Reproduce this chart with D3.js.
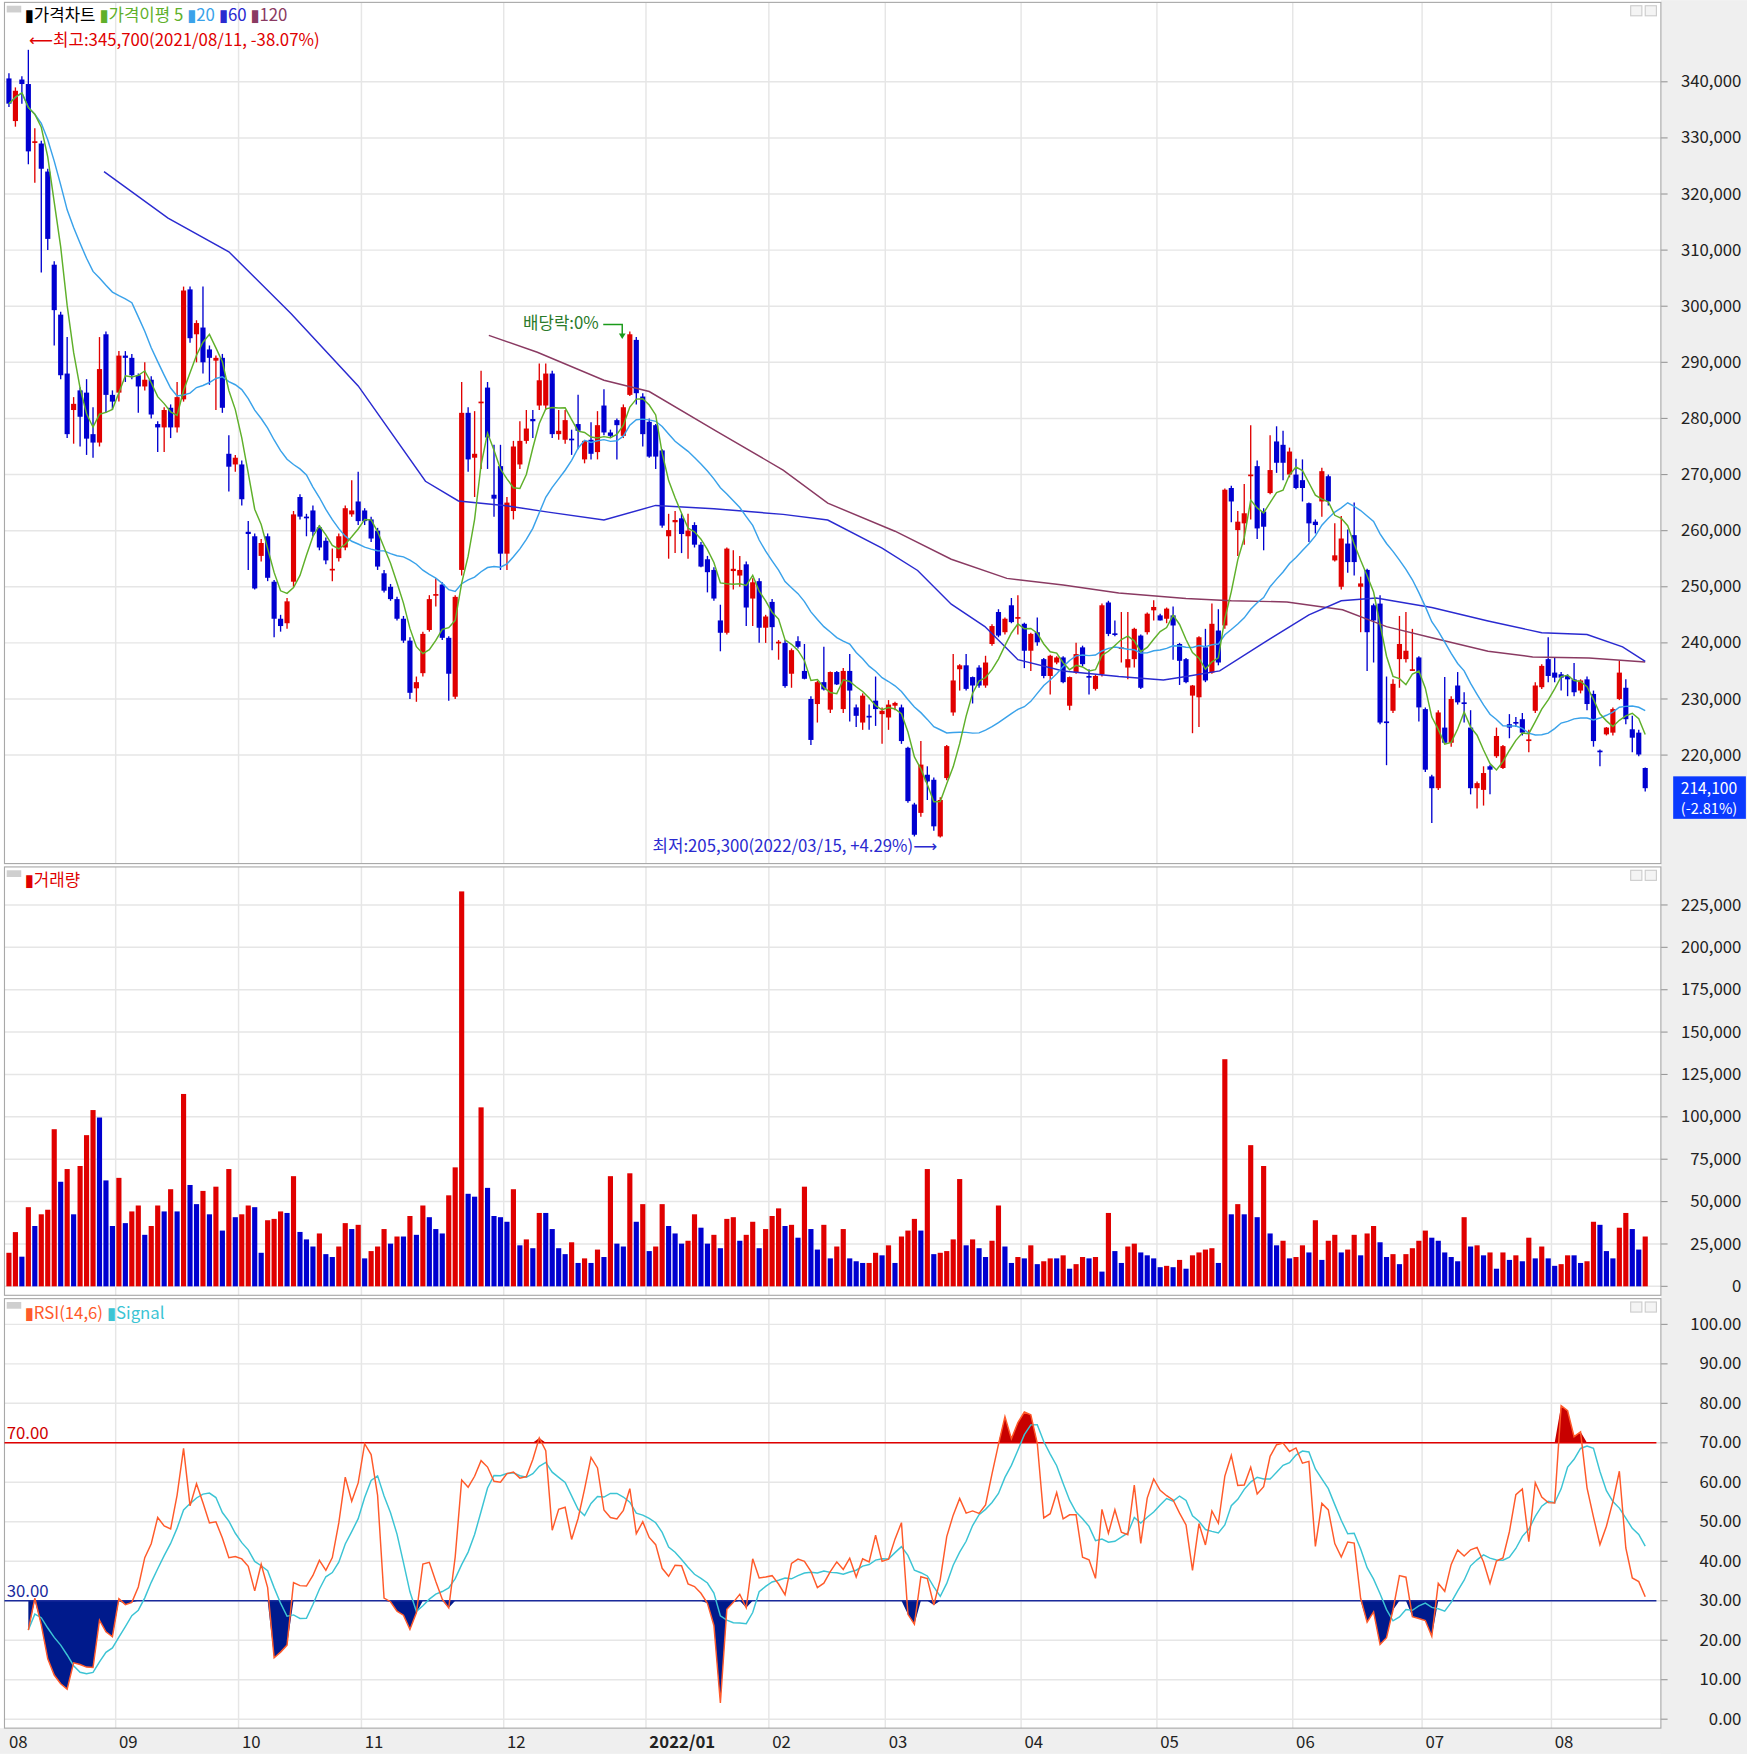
<!DOCTYPE html>
<html><head><meta charset="utf-8">
<script src="https://cdn.jsdelivr.net/npm/d3@7"></script>
<style>
body{margin:0;background:#fff;}
text{font-family:"Noto Sans CJK KR","DejaVu Sans",sans-serif;}
</style></head>
<body><svg id="c" width="1747" height="1754" viewBox="0 0 1562 1568"></svg>
<script>
// candles [open, high, low, close] in thousands of won, per month
var aug21 = [[340.6,341.5,335.5,336.1],[333,339,332,338.4],[340.4,341,336.1,339.6],[339.6,345.7,325.3,327.6],[329.1,331.7,322,329.4],[329,329.5,306,324.5],[324,324.5,310,312],[307.4,308,293,299.3],[298.5,299,287,287.7],[288,294.5,276.5,277.2],[281.5,283.8,275.5,282.6],[285,285.5,275,280.3],[284.6,287,273.5,276.4],[277.2,282,273,275.7],[275.7,294.5,275,288.8],[295,295.5,281,284.2],[284.2,285,281.5,283]];
var sep21 = [[284.6,292,283,291.2],[291.2,292,286.5,290.8],[290.8,291.5,287,287.7],[287.7,288,281,285.7],[285.7,290,285,286.9],[286.9,287.5,280,280.7],[279,279.5,274,278.4],[278.4,282,274,281.5],[281.9,282.5,276.5,278.4],[278.4,286.5,277.5,283.8],[283.4,303.5,283,302.8],[303,303.5,293.5,294.3],[295,297.5,290,297],[296.2,303.5,288,290],[292.3,293,286,290.8],[290.3,291.2,281.5,290.8],[290.8,291.5,281,281.9],[273.7,277,267,271.4],[271.8,273.5,270.5,273]];
var oct21 = [[271.8,272.5,264.5,265.6],[259.8,261.7,253,259.4],[259,259.5,249.5,249.7],[255.5,258.5,254.5,257.8],[259,259.5,251,251.6],[250.9,251.2,241,244.3],[244.3,245,242,243],[243.5,248,242.5,247.4],[250.9,263.5,250,262.9],[266,266.5,262,262.5],[262.5,263,259,262.2],[263.6,264.5,259,259.8],[260.6,261,256.5,257],[258.2,258.8,254,254.7],[253,256.8,251,253.2],[255.1,259.5,254.5,259],[257,264.5,256.5,264],[262.9,269,262.5,263.6],[265.2,270.5,261,261.7]];
var nov21 = [[263.6,264,261,261.7],[262,262.5,258,258.6],[260,260.5,253,253.6],[252.4,253,249,249.3],[250,250.5,247.5,247.8],[247.8,248.2,244,244.3],[244.3,244.8,240,240.4],[240.4,241,230,231.1],[231.9,234,229.5,233],[234.6,242,234,241.6],[242.3,248.5,242,247.8],[248.7,251.5,246.5,248.7],[250.4,250.8,240.5,240.9],[240.9,241.2,229.7,234.5],[230.4,248.5,230,248.2],[253,286.5,252,281],[281,282,270.5,272.7],[273,281.3,266,273.7],[283,288.5,271,283],[285.5,286.5,271,276.6],[266.4,275.3,262.5,265.7],[271.5,275.3,253,255.9]];
var dec21 = [[255.9,266,253,265],[263.5,276,262,275],[271.8,279.5,271,276],[276,281.5,275.5,278.2],[279.9,281.5,276.5,279.5],[282.3,289.8,281.5,286.8],[282.3,289.8,281.5,288],[288,288.5,276.5,277.2],[277.2,281.5,276.2,277.8],[276.2,281.5,275.5,279.7],[276.4,278,273.5,276.2],[279,284.2,274.5,277.8],[272.7,276,272,276],[276.2,279.3,272.7,273.7],[274,281.3,272.7,278.8],[282.3,285.2,277,277.5],[277.5,278,276.5,276.9],[279.7,280,272.7,278.8],[276.9,282.5,276.5,282],[284.2,295.5,284,295],[294,294.5,282.5,284.5],[283.9,284.5,275,277.2]];
var jan22 = [[279.4,280,273,273.2],[278.8,279,271,273.2],[274.3,274.5,260.5,260.9],[259,263,255,260.1],[261.5,263.5,256,261.9],[262.2,263,256,259.4],[259,263,255,260],[261,261.5,257,257.5],[257.5,258,253.5,253.6],[254.9,255.5,249,252.6],[253,253.5,247.5,247.9],[244,246.8,238.5,241.8],[241.8,257,241.5,256.8],[252.8,256.5,249.5,253.2],[252,255.5,250,253],[254,254.5,243,246.3],[247.9,251.5,243,250.8],[251,251.5,240,242.7],[242.7,245,240,244.7]];
var feb22 = [[247.3,247.8,238.7,242.8],[240,240.5,237,240.2],[240,240.5,232,232.3],[234.5,239,232,238.7],[240.3,241.2,239,239.3],[235,239.8,233.5,233.6],[230,230.5,221.8,222.7],[229.1,233.2,225.8,233],[233,239.3,231.5,231.7],[228.1,234.9,227.5,234.8],[234.8,235,232.5,232.6],[228.2,235.5,227.5,235],[235,238,226,231.5],[228.5,229,225,227],[225.8,231,224.5,230.6],[227,229,224.5,226.7],[229.7,234,225.2,228.2],[227.3,228.5,222,227.9]];
var mar22 = [[226.7,229.8,224.5,229],[228.8,229.5,228,229.3],[228.5,229,222,222.5],[221.3,221.5,211.5,211.8],[211.2,211.5,205.5,205.8],[209.7,222.5,209,218.3],[216.5,218,212,215.3],[215.6,216,206.5,207.3],[205.5,212.5,205.3,212],[215.9,221.8,215.5,221.6],[227.6,238,227,233.3],[235.3,236.2,231.5,236],[236,238,231.5,231.8],[233.9,234,229.2,232.4],[235.6,236,232,232.4],[232.4,237.7,232,236.5],[239.8,243.3,239.5,243],[245.5,246,241,241.3],[241.9,244.5,241.5,244.3],[246.7,248,243.5,243.7],[244.4,248.5,241.5,244.6]];
var apr22 = [[243.4,243.6,235.5,238.6],[238.6,241.8,235,241.6],[241.9,244.5,239.5,240.1],[237.1,237.3,233.7,234.1],[234.1,237.9,230.8,237.7],[236.5,237.6,236.2,237.4],[237.4,237.6,232.8,233],[228.8,234,228,233.9],[234.7,240,234.5,238],[239.2,239.5,235.8,236.2],[234.1,235.3,230.8,233.9],[231.8,234.3,231.5,234.1],[234.4,247,234,246.7],[247.2,247.5,241.2,241.6],[241.7,244,241.2,241.4],[239,245.5,236.5,239.2],[235.6,245.5,233.5,237.1],[237.1,242.7,235.6,242.5],[241.3,241.5,231.8,232],[241.9,245.4,241.5,245.2],[245.8,247.6,244,246.4]];
var may22 = [[244.9,245.2,244,244],[244.3,246.3,243.5,246.1],[244.9,246.5,237,243.1],[239.8,240,232.5,236.8],[237.1,237.3,232.8,233],[230.6,232.5,223.9,232.4],[230.3,241.2,225,241],[239.2,242.5,233,233.3],[234.7,247,234.5,243.4],[242.2,246,236,236.5],[243.1,267.5,242.5,267.3],[267.6,268,261.5,265.2],[260.1,263.5,255.5,261.6],[261.3,268.3,257.5,263.1],[269.7,278.8,262,270],[271.5,272.5,258.5,260.4],[263.4,264,256.5,260.7],[266.7,277,266.5,270.8],[275.9,278.6,270.3,272.1],[275.3,277.8,269,272.1],[270,274.8,269.5,274.1]];
var jun22 = [[270,272.8,267.4,267.6],[269,272.7,265.2,267.6],[264.9,265,258,261.3],[261.6,262,259.5,261],[265.2,271.2,262.5,270.6],[269.7,270,264.5,265.2],[254.7,261.3,254.5,255.6],[250,262.6,249.5,258.6],[257.7,260.2,252.5,254.4],[259.2,265,252,254.4],[250,251.8,241.9,250.6],[253,253.2,235,241.9],[246.7,247,236.5,244],[247,248.5,225.5,225.8],[226,234,218.2,225.8],[227.9,233.5,227.5,232.7],[237.1,244.8,232,239.8],[237.1,245.5,236.5,238.6],[235,242.5,235,235.3],[237.4,237.6,226,228.5]];
var jul22 = [[228.2,228.5,217,217.4],[216.2,216.5,207.9,214.1],[214.1,228,213.8,227.6],[224.9,233.9,222,222.2],[222.2,230.5,221.5,230],[232.4,234.8,229,229.4],[229.4,231.2,225.8,229.2],[224.9,228,213,214.1],[214.1,215.3,210.5,215],[213.8,218,211,216.8],[218,218.3,213,217.4],[219.8,224.9,219.5,223.4],[217.7,221.8,217.5,221.6],[225.5,227.3,223,224.9],[225.9,226.8,225,225.8],[226.4,227.5,223.5,224],[222.6,224.5,220.5,222.8],[227.9,233,227.5,232.4],[232.1,236.2,231.8,235.9],[237.1,241,233,234.1]];
var aug22 = [[234.7,237.5,233,233.8],[234.4,234.8,231.5,233.8],[234.1,234.4,230.5,233.5],[233.5,236.4,230.5,231.2],[231.5,233.5,231,233.3],[233.5,234,228,229.1],[230.9,231.5,221.5,222.5],[220.8,221,218,220.7],[223.7,225,223.5,224.9],[224,228.5,223.5,228.2],[230,236.8,229.8,234.7],[232,233.5,225.5,226.4],[224.6,227,220.5,223.1],[224,224.5,219.8,220.1],[217.7,217.8,213.5,214.1]];
var months = [aug21, sep21, oct21, nov21, dec21, jan22, feb22, mar22, apr22, may22, jun22, jul22, aug22];
var monthLabels = ["08","09","10","11","12","2022/01","02","03","04","05","06","07","08"];

// volume, thousands of shares
var volume = [19.8,32,17.5,46.7,35.6,42.5,45.2,92.7,61.7,69.2,42.5,71,89.2,104,99.6,62.5,35.6,64,37.3,44.2,47.7,30.4,35.6,47.7,44.2,57.3,44.2,113.5,59.8,48.5,56.3,42.5,58.8,32.9,69.2,40.8,42.5,47.7,46.7,19.8,39,39.8,44.2,43.3,65,32.1,27.7,23.5,31.2,19,17.3,23.5,37.3,33.8,36.3,16.5,20.8,23.5,33.8,25.2,29.4,29.4,41.5,30.4,47.7,40.8,33.8,31.2,53.7,70.2,233,54.6,52.9,105.6,58.1,41.5,40.8,38.1,57.3,24.2,27.7,22.5,43.3,43.3,33.8,22.5,19,26,13.8,16.5,13.8,21.7,17.3,65,25.2,23.5,66.7,38.1,48.5,20.8,23.5,48.5,35.6,31.2,25.2,26.9,42.5,34.6,25.2,30.4,22.5,39.8,40.8,26.9,30.4,38.1,22.5,33.8,41.5,46,35.6,36.3,28.7,58.8,33.8,21.7,36.3,16.5,23.5,33.8,
16.5,14.8,13.8,13.8,19.8,18.3,24.2,13.8,29.4,32.9,39.8,32.9,69.2,19,19.8,20.8,27.7,63.3,24.2,27.7,22.5,17.3,26.9,47.7,23.5,13.8,17.3,16.5,24.2,13.1,14.8,16.5,16.5,18.3,10.4,13.1,17.3,16.5,17.3,8.7,43.3,20.8,13.8,23.5,25.2,20,18.3,16.5,11.3,12.1,11.3,15.6,10.4,18.3,20,21.7,22.5,13.8,134,
42.5,48.5,42.5,83.3,40.8,71,31.2,24.2,26.9,16.5,17.3,24.2,20,39,15.6,26.9,30.4,20,21.7,30.4,18.3,31.2,35.6,26,17.3,19,13.1,19,22.5,26.9,32.9,28.7,26.9,20,17.3,14.8,40.8,23.5,24.2,18.3,20,10.4,20,15.6,18.3,14.8,28.7,16.5,23.5,16.5,12.1,13.1,18.3,18.3,13.8,14.8,38.1,36.3,20.8,16.5,34.6,43.3,33.8,21.7,29.4];
// volume bar colours as read: r = red, b = blue
var volColor = "rrbrbrrrbr" + "brrrbbbrbr" + "rbrrbrbrbb" + "rbrbrbrrbb" + "rrrbrbbbrb" + "brrbrbrrrb" + "rbrbrbbbrr" + "rbbrbbbbrb" + "rbrbbbbrbr" + "brbrbbrbrb" + "rrbbbrrbbr" + "brrbrrbrrr" + "brbrbbrbrr" +
	"bbbrrbrbrr" + "rbrbrrrrbr" + "bbrrbbrbrb" + "rrbrbrrbrb" + "rbbrrbbbbr" + "brbrrrrb" + "r" +
	"brbrbrbbrb" + "rrbrbrrbrr" + "brrbbrbrrr" + "rbbbbbrbrb" + "rbrbrbrbrb" + "brrbbrrbbb" + "rrbbr";

// 60- and 120-day averages: [day index, value]
var ma60pts = [[14.7,324],[24.6,315.7],[34,309.7],[43.6,298.7],[54,285.8],[64.4,268.8],[69.5,265.3],[76.5,264.5],[83.4,263.3],[92,261.9],[100,264.5],[109,263.9],[119.7,262.9],[126.6,261.9],[135,256.9],[140.5,252.9],[145.7,246.9],[150.9,242.9],[156,237],[163,235],[171.6,234],[178.5,233.4],[182,234],[187.2,235],[194,240],[201,245],[206,247.5],[211.4,248],[220,246.3],[228.7,243.9],[237,241.8],[244,241.5],[249.5,239.3],[253,236.7]];
var ma120pts = [[74.2,294.8],[81.7,291.8],[92,286.8],[99,284.8],[109.3,277.8],[119.7,270.8],[126.6,264.9],[137,259.9],[145.7,254.9],[154.3,251.5],[163,250.3],[171.6,248.9],[182,247.9],[189,247.5],[197.6,247.3],[206.2,245.9],[213,242.9],[220,240.9],[228.7,238.5],[235.6,237.5],[244.3,237.3],[253,236.6]];

var RED = "#e00000", BLUE = "#0000d0";
var candles = [].concat.apply([], months);
var N = candles.length;
var starts = [], acc = 0;
months.forEach(function(m){ starts.push(acc); acc += m.length; });
var closes = candles.map(function(d){ return d[3]; });

function sma(arr, n) {
	return arr.map(function(v, i) {
		var lo = Math.max(0, i - n + 1), s = 0;
		for (var k = lo; k <= i; k++) s += arr[k];
		return s / (i - lo + 1);
	});
}
var ma5 = sma(closes, 5), ma20 = sma(closes, 20);

// RSI(14) with 6-day signal
var rsi = [];
for (var i = 0; i < N; i++) {
	var g = 0, l = 0, lo = Math.max(1, i - 13);
	for (var k = lo; k <= i; k++) {
		var df = closes[k] - closes[k-1];
		if (df > 0) g += df; else l -= df;
	}
	rsi.push(i < 3 ? null : (g + l === 0 ? 50 : 100 * g / (g + l)));
}
var rsiIdx = d3.range(3, N);
var sig = rsiIdx.map(function(i, j) {
	var lo = Math.max(0, j - 5), s = 0;
	for (var k = lo; k <= j; k++) s += rsi[rsiIdx[k]];
	return s / (j - lo + 1);
});

var svg = d3.select("#c");
var L = 4, R = 1485;
var x = d3.scaleLinear().domain([0, N - 1]).range([8, 1471]);
var step = x(1) - x(0);

svg.append("rect").attr("x", 0).attr("y", 0).attr("width", 1562).attr("height", 1568).attr("fill", "#fff");
svg.append("rect").attr("x", R).attr("y", 0).attr("width", 1562 - R).attr("height", 1568).attr("fill", "#efefef");
svg.append("rect").attr("x", 0).attr("y", 1545).attr("width", 1562).attr("height", 23).attr("fill", "#efefef");

var panels = [
	{top: 2, bot: 772},
	{top: 775, bot: 1158},
	{top: 1161, bot: 1545}
];
var yP = d3.scaleLinear().domain([340, 220]).range([73, 675]);
var yV = d3.scaleLinear().domain([0, 225000]).range([1150, 809]);
var yR = d3.scaleLinear().domain([100, 0]).range([1184, 1537]);

function hgrid(scale, ticks, fmt) {
	var g = svg.append("g");
	ticks.forEach(function(t) {
		g.append("line").attr("x1", L).attr("x2", R).attr("y1", scale(t)).attr("y2", scale(t))
			.attr("stroke", "#e6e6e6").attr("stroke-width", 1.3);
		g.append("line").attr("x1", R).attr("x2", R + 6).attr("y1", scale(t)).attr("y2", scale(t)).attr("stroke", "#999");
		g.append("text").attr("x", 1557).attr("y", scale(t) + 5).attr("text-anchor", "end")
			.attr("font-size", 15).attr("fill", "#222").text(fmt(t));
	});
}
hgrid(yP, d3.range(220, 341, 10), function(t){ return d3.format(",")(t * 1000); });
hgrid(yV, d3.range(0, 225001, 25000), d3.format(","));
hgrid(yR, d3.range(0, 101, 10), d3.format(".2f"));

// month grid lines and labels
starts.forEach(function(s, i) {
	var gx = x(s) - step / 2;
	if (i > 0) panels.forEach(function(p) {
		svg.append("line").attr("x1", gx).attr("x2", gx).attr("y1", p.top).attr("y2", p.bot)
			.attr("stroke", "#e6e6e6").attr("stroke-width", 1.3);
	});
	svg.append("text").attr("x", Math.max(gx, 2) + 3).attr("y", 1563).attr("font-size", 15)
		.attr("font-weight", monthLabels[i].length > 2 ? "bold" : "normal").attr("fill", "#222").text(monthLabels[i]);
});
panels.forEach(function(p) {
	svg.append("rect").attr("x", L).attr("y", p.top).attr("width", R - L).attr("height", p.bot - p.top)
		.attr("fill", "none").attr("stroke", "#a8a8a8");
	svg.append("rect").attr("x", 1458).attr("y", p.top + 3).attr("width", 10).attr("height", 9).attr("fill", "#f4f4f4").attr("stroke", "#ccc");
	svg.append("rect").attr("x", 1471).attr("y", p.top + 3).attr("width", 10).attr("height", 9).attr("fill", "#f4f4f4").attr("stroke", "#ccc");
	svg.append("rect").attr("x", 6).attr("y", p.top + 3).attr("width", 13).attr("height", 6).attr("fill", "#cfcfcf");
});

// candles
var cg = svg.append("g");
candles.forEach(function(d, i) {
	var up = d[3] >= d[0], col = up ? RED : BLUE;
	cg.append("line").attr("x1", x(i)).attr("x2", x(i)).attr("y1", yP(d[1])).attr("y2", yP(d[2]))
		.attr("stroke", col).attr("stroke-width", 1.2);
	var t = yP(Math.max(d[0], d[3])), b = yP(Math.min(d[0], d[3]));
	cg.append("rect").attr("x", x(i) - 2.3).attr("y", t).attr("width", 4.6).attr("height", Math.max(b - t, 1.5)).attr("fill", col);
});

var line = d3.line().x(function(d){ return x(d[0]); }).y(function(d){ return yP(d[1]); });
svg.append("path").attr("d", line(ma120pts)).attr("fill", "none").attr("stroke", "#8a3a62").attr("stroke-width", 1.3);
svg.append("path").attr("d", line(ma60pts)).attr("fill", "none").attr("stroke", "#2a2ad0").attr("stroke-width", 1.3);
svg.append("path").attr("d", line(ma20.map(function(v, i){ return [i, v]; }))).attr("fill", "none").attr("stroke", "#3aa2ea").attr("stroke-width", 1.3);
svg.append("path").attr("d", line(ma5.map(function(v, i){ return [i, v]; }))).attr("fill", "none").attr("stroke", "#5fb02a").attr("stroke-width", 1.3);

// volume
volume.forEach(function(v, i) {
	svg.append("rect").attr("x", x(i) - 2.3).attr("y", yV(v * 1000)).attr("width", 4.6)
		.attr("height", yV(0) - yV(v * 1000)).attr("fill", volColor[i] === "r" ? RED : BLUE);
});

// RSI
var rpts = rsiIdx.map(function(i){ return [i, rsi[i]]; });
var areaLo = d3.area().x(function(d){ return x(d[0]); }).y0(yR(30)).y1(function(d){ return yR(Math.min(d[1], 30)); });
var areaHi = d3.area().x(function(d){ return x(d[0]); }).y0(yR(70)).y1(function(d){ return yR(Math.max(d[1], 70)); });
svg.append("path").attr("d", areaLo(rpts)).attr("fill", "#001a8c");
svg.append("path").attr("d", areaHi(rpts)).attr("fill", "#c80000");
svg.append("line").attr("x1", L).attr("x2", 1481).attr("y1", yR(70)).attr("y2", yR(70)).attr("stroke", "#e00000").attr("stroke-width", 1.3);
svg.append("line").attr("x1", L).attr("x2", 1481).attr("y1", yR(30)).attr("y2", yR(30)).attr("stroke", "#1a2a9c").attr("stroke-width", 1.3);
var rl = d3.line().x(function(d){ return x(d[0]); }).y(function(d){ return yR(d[1]); });
svg.append("path").attr("d", rl(rsiIdx.map(function(i, j){ return [i, sig[j]]; }))).attr("fill", "none").attr("stroke", "#3cc4d4").attr("stroke-width", 1.3);
svg.append("path").attr("d", rl(rpts)).attr("fill", "none").attr("stroke", "#ff5a2a").attr("stroke-width", 1.3);
svg.append("text").attr("x", 6).attr("y", yR(70) - 3).attr("font-size", 15).attr("fill", "#d00000").text("70.00");
svg.append("text").attr("x", 6).attr("y", yR(30) - 3).attr("font-size", 15).attr("fill", "#1a2a9c").text("30.00");

// legends
function legend(y, items) {
	var t = svg.append("text").attr("x", 22).attr("y", y).attr("font-size", 15);
	items.forEach(function(it) {
		t.append("tspan").attr("fill", it[1]).attr("font-weight", "bold").text("▮");
		t.append("tspan").attr("fill", it[1]).text(it[0] + " ");
	});
}
legend(19, [["가격차트", "#000"], ["가격이평 5", "#5fb02a"], ["20", "#3aa2ea"], ["60", "#2a2ad0"], ["120", "#8a3a62"]]);
legend(792, [["거래량", RED]]);
legend(1179, [["RSI(14,6)", "#ff5a2a"], ["Signal", "#3cc4d4"]]);

// annotations
svg.append("text").attr("x", 26).attr("y", 41).attr("font-size", 15).attr("fill", RED).text("⟵최고:345,700(2021/08/11, -38.07%)");
svg.append("text").attr("x", 838).attr("y", 762).attr("text-anchor", "end").attr("font-size", 15).attr("fill", "#2a2ad0").text("최저:205,300(2022/03/15, +4.29%)⟶");
var dx = x(starts[5] - 4);
svg.append("text").attr("x", dx - 22).attr("y", 294).attr("text-anchor", "end").attr("font-size", 15).attr("fill", "#2a7a2a").text("배당락:0%");
svg.append("path").attr("d", "M" + (dx - 18) + ",290 H" + (dx - 1) + " V" + 300).attr("fill", "none").attr("stroke", "#1a9a1a").attr("stroke-width", 1.3);
svg.append("path").attr("d", "M" + (dx - 4) + ",298 L" + (dx + 2) + ",298 L" + (dx - 1) + ",303 Z").attr("fill", "#1a9a1a");

// last price box
var last = candles[N - 1][3];
svg.append("rect").attr("x", 1496).attr("y", 694).attr("width", 65).attr("height", 38).attr("fill", "#0a3aff");
svg.append("text").attr("x", 1528).attr("y", 710).attr("text-anchor", "middle").attr("font-size", 14).attr("fill", "#fff").text(d3.format(",")(last * 1000));
svg.append("text").attr("x", 1528).attr("y", 728).attr("text-anchor", "middle").attr("font-size", 13).attr("fill", "#fff").text("(-2.81%)");
</script></body></html>
